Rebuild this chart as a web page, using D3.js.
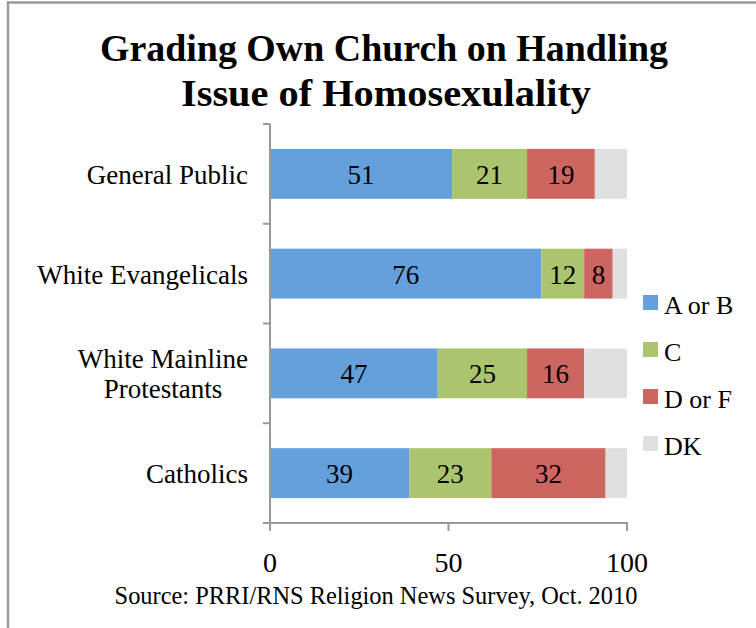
<!DOCTYPE html>
<html>
<head>
<meta charset="utf-8">
<script src="https://cdn.jsdelivr.net/npm/d3@7"></script>
<style>
  html, body { margin: 0; padding: 0; background: #fff; }
  svg { display: block; }
  text { font-family: "Liberation Serif", "Times New Roman", serif; fill: #000; }
</style>
</head>
<body>
<svg id="chart" width="756" height="628"></svg>
<script>
// ---- data ----
const categories = ["General Public", "White Evangelicals", "White Mainline Protestants", "Catholics"];
const categoryLines = [["General Public"], ["White Evangelicals"], ["White Mainline", "Protestants"], ["Catholics"]];
const seriesNames = ["A or B", "C", "D or F", "DK"];
const seriesColors = ["#64a0dc", "#abc46e", "#cd6660", "#e0e0e0"];
const valuesAorB = [51, 76, 47, 39];
const valuesC    = [21, 12, 25, 23];
const valuesDorF = [19, 8, 16, 32];
const valuesDK   = [9, 4, 12, 6];
const xTicks = [0, 50, 100];
const titleLines = ["Grading Own Church on Handling", "Issue of Homosexulality"];
const sourceText = "Source: PRRI/RNS Religion News Survey, Oct. 2010";

const seriesValues = [valuesAorB, valuesC, valuesDorF, valuesDK];
const labeled = [true, true, true, false];

const svg = d3.select("#chart");

// frame border
svg.append("path")
  .attr("d", "M8,756 L8,2.5 L760,2.5")
  .attr("fill", "none").attr("stroke", "#999").attr("stroke-width", 2.5);

// title
svg.append("text")
  .attr("x", 384).attr("y", 61)
  .attr("text-anchor", "middle")
  .style("font-size", "38px").style("font-weight", "bold")
  .attr("textLength", 568).attr("lengthAdjust", "spacingAndGlyphs")
  .text(titleLines[0]);
svg.append("text")
  .attr("x", 386).attr("y", 106)
  .attr("text-anchor", "middle")
  .style("font-size", "38px").style("font-weight", "bold")
  .attr("textLength", 410).attr("lengthAdjust", "spacingAndGlyphs")
  .text(titleLines[1]);

// scales
const x = d3.scaleLinear().domain([0, 100]).range([270, 627]);
const y = d3.scaleBand().domain(categories).range([124, 523]).paddingInner(0.5).paddingOuter(0.25);

// stack data
const rows = categories.map((c, i) => {
  const r = { cat: c };
  seriesNames.forEach((s, j) => r[s] = seriesValues[j][i]);
  return r;
});
const stack = d3.stack().keys(seriesNames)(rows);

stack.forEach((layer, j) => {
  const g = svg.append("g");
  g.selectAll("rect").data(layer).enter().append("rect")
    .attr("x", d => x(d[0]))
    .attr("y", d => y(d.data.cat))
    .attr("width", d => x(d[1]) - x(d[0]))
    .attr("height", y.bandwidth())
    .attr("fill", seriesColors[j]);
  if (labeled[j]) {
    g.selectAll("text").data(layer).enter().append("text")
      .attr("x", d => (x(d[0]) + x(d[1])) / 2)
      .attr("y", d => y(d.data.cat) + y.bandwidth() / 2 + 10)
      .attr("text-anchor", "middle")
      .style("font-size", "27px")
      .text(d => d[1] - d[0]);
  }
});

// y axis
const axisColor = "#999";
svg.append("line")
  .attr("x1", x(0)).attr("x2", x(0))
  .attr("y1", 124).attr("y2", 523)
  .attr("stroke", axisColor).attr("stroke-width", 2);
const bounds = categories.map(c => y(c) - y.step() * y.paddingInner() / 2).concat([523]);
bounds[0] = 124;
svg.selectAll(".ytick").data(bounds).enter().append("line")
  .attr("x1", x(0) - 7).attr("x2", x(0))
  .attr("y1", d => d).attr("y2", d => d)
  .attr("stroke", axisColor).attr("stroke-width", 2);

// category labels (multi-line labels centered on their widest line)
categoryLines.forEach((lines, i) => {
  const cy = y(categories[i]) + y.bandwidth() / 2;
  const lh = 30;
  const nodes = lines.map((ln, k) => svg.append("text")
    .attr("x", 248)
    .attr("y", cy + 10 + (k - (lines.length - 1) / 2) * lh)
    .attr("text-anchor", "end")
    .style("font-size", "27px")
    .text(ln));
  if (lines.length > 1) {
    const widths = nodes.map(n => n.node().getComputedTextLength());
    const maxW = Math.max(...widths);
    const center = 248 - maxW / 2;
    nodes.forEach(n => n.attr("x", center).attr("text-anchor", "middle"));
  }
});

// x axis
svg.append("line")
  .attr("x1", x(0) - 1).attr("x2", x(100) + 1)
  .attr("y1", 523).attr("y2", 523)
  .attr("stroke", axisColor).attr("stroke-width", 2);
svg.selectAll(".xtick").data(xTicks).enter().append("line")
  .attr("x1", d => x(d)).attr("x2", d => x(d))
  .attr("y1", 523).attr("y2", 531)
  .attr("stroke", axisColor).attr("stroke-width", 2);
svg.selectAll(".xlabel").data(xTicks).enter().append("text")
  .attr("x", d => x(d))
  .attr("y", 572)
  .attr("text-anchor", "middle")
  .style("font-size", "28px")
  .text(d => d);

// legend
seriesNames.forEach((s, j) => {
  const cy = 302.5 + j * 47;
  svg.append("rect")
    .attr("x", 643).attr("y", cy - 7.5)
    .attr("width", 15).attr("height", 15)
    .attr("fill", seriesColors[j]);
  svg.append("text")
    .attr("x", 664).attr("y", cy + 11)
    .style("font-size", "26px")
    .text(s);
});

// source
svg.append("text")
  .attr("x", 376).attr("y", 604)
  .attr("text-anchor", "middle")
  .style("font-size", "24.4px")
  .text(sourceText);
</script>
</body>
</html>
